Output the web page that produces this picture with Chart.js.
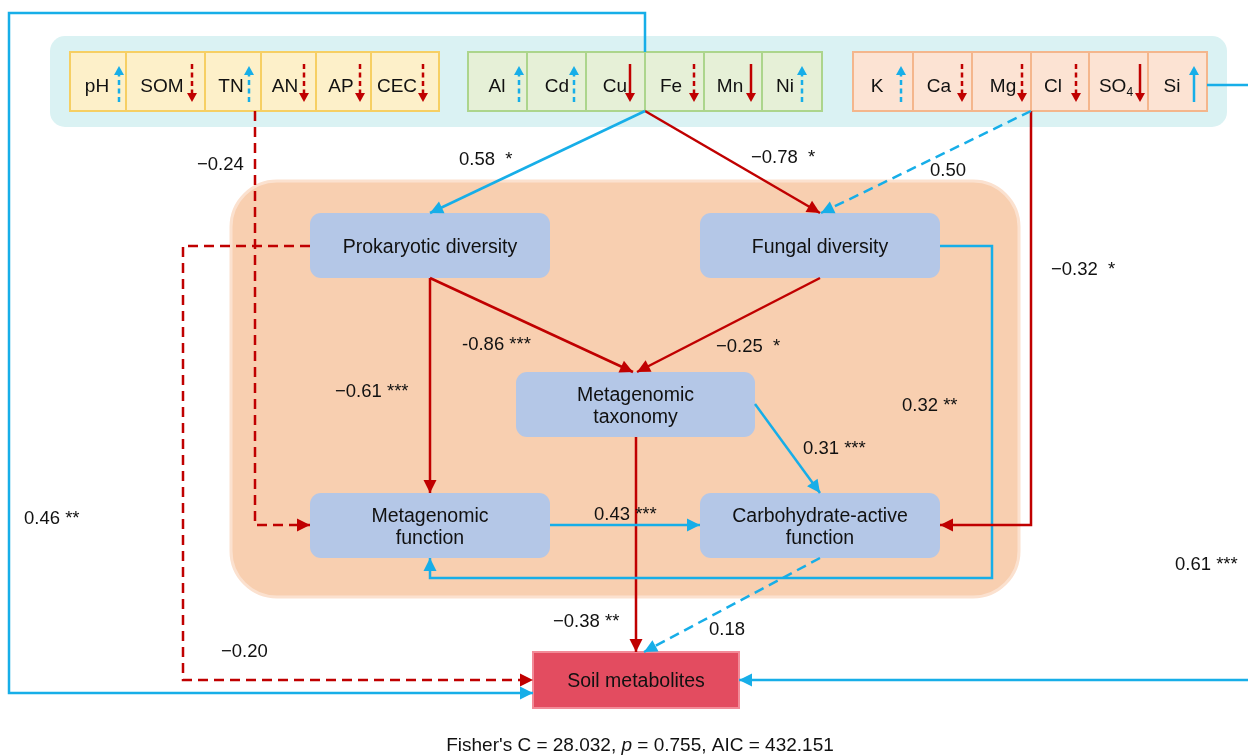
<!DOCTYPE html>
<html><head><meta charset="utf-8">
<script src="https://cdn.jsdelivr.net/npm/chart.js@4/dist/chart.umd.min.js"></script>
<style>html,body{margin:0;padding:0;background:#fff}#wrap{width:1248px;height:755px;position:relative}</style>
</head><body><div id="wrap"><canvas id="c"></canvas></div>
<script>
// ---------------- DATA ----------------
const soilProps = ['pH','SOM','TN','AN','AP','CEC'];
const soilTrend = ['up-dash','down-dash','up-dash','down-dash','down-dash','down-dash'];
const metals = ['Al','Cd','Cu','Fe','Mn','Ni'];
const metalTrend = ['up-dash','up-dash','down-solid','down-dash','down-solid','up-dash'];
const ions = ['K','Ca','Mg','Cl','SO4','Si'];
const ionTrend = ['up-dash','down-dash','down-dash','down-dash','down-solid','up-solid'];
const nodeNames = ['Prokaryotic diversity','Fungal diversity','Metagenomic\ntaxonomy','Metagenomic\nfunction','Carbohydrate-active\nfunction','Soil metabolites'];
// path coefficients (edge order below)
const coefficients = [0.58,-0.78,0.50,-0.32,-0.24,-0.20,-0.61,-0.86,-0.25,0.32,0.31,0.43,-0.38,0.18,0.46,0.61];
const significance = ['*','*','','*','','','***','***','*','**','***','***','**','','**','***'];
const fitText = ['Fisher\'s C = 28.032, ','p',' = 0.755, AIC = 432.151'];

// ---------------- LAYOUT / STYLE ----------------
const BLUE='#17aee8', RED='#c00000';
const groups = [
  {names:soilProps,trend:soilTrend,edges:[70,126,205,261,316,371,439],arrowX:[119,192,249,304,360,423],textX:[97,162,231,285,341,397],fill:'#fdf0c9',stroke:'#f6cf63'},
  {names:metals,trend:metalTrend,edges:[468,527,586,645,704,762,822],arrowX:[519,574,630,694,751,802],textX:[497,557,615,671,730,785],fill:'#e6f0d7',stroke:'#acd58c'},
  {names:ions,trend:ionTrend,edges:[853,913,972,1031,1089,1148,1207],arrowX:[901,962,1022,1076,1140,1194],textX:[877,939,1003,1053,1116,1172],fill:'#fce3d3',stroke:'#f4b68c'}
];
const cellTop=52, cellBot=111;
const nodes = [
  {x:310,y:213,w:240,h:65},{x:700,y:213,w:240,h:65},{x:516,y:372,w:239,h:65},
  {x:310,y:493,w:240,h:65},{x:700,y:493,w:240,h:65},{x:533,y:652,w:206,h:56}
];
const edges = [
  {pts:[[645,111],[430,213]],c:BLUE},
  {pts:[[645,111],[820,213]],c:RED},
  {pts:[[1031,111],[821,213]],c:BLUE,dash:true},
  {pts:[[1031,111],[1031,525],[940,525]],c:RED},
  {pts:[[255,111],[255,525],[310,525]],c:RED,dash:true},
  {pts:[[310,246],[183,246],[183,680],[533,680]],c:RED,dash:true},
  {pts:[[430,278],[430,493]],c:RED},
  {pts:[[430,278],[633,372]],c:RED},
  {pts:[[820,278],[637,372]],c:RED},
  {pts:[[940,246],[992,246],[992,578],[430,578],[430,558]],c:BLUE},
  {pts:[[755,404],[820,493]],c:BLUE},
  {pts:[[550,525],[700,525]],c:BLUE},
  {pts:[[636,437],[636,652]],c:RED},
  {pts:[[820,558],[644,652]],c:BLUE,dash:true},
  {pts:[[645,52],[645,13],[9,13],[9,693],[533,693]],c:BLUE},
  {pts:[[1207,85],[1262,85],[1262,680],[739,680]],c:BLUE}
];
const labelPos = [[459,158],[751,156],[930,169],[1051,268],[197,163],[221,650],[335,390],[462,343],[716,345],[902,404],[803,447],[594,513],[553,620],[709,628],[24,517],[1175,563]];

function fmt(v,i){
  const s = Math.abs(v).toFixed(2);
  const n = (v<0 ? (i===7?'-':'\u2212') : '') + s;
  const st = significance[i];
  if(!st) return n;
  return n + (st.length===1?'  ':' ') + st;
}

const FONT = '"Liberation Sans", Arial, sans-serif';

const datasets = edges.map(e=>({
  data:e.pts.map(p=>({x:p[0],y:p[1]})),
  showLine:true, borderColor:e.c, backgroundColor:e.c, borderWidth:2.5,
  borderDash:e.dash?[10,6]:[], pointRadius:0, tension:0, fill:false, clip:false
}));

function rr(ctx,x,y,w,h,r){ctx.beginPath();ctx.moveTo(x+r,y);ctx.arcTo(x+w,y,x+w,y+h,r);ctx.arcTo(x+w,y+h,x,y+h,r);ctx.arcTo(x,y+h,x,y,r);ctx.arcTo(x,y,x+w,y,r);ctx.closePath();}
function head(ctx,x1,y1,x2,y2,color,L=13,W=6.5){
  const a=Math.atan2(y2-y1,x2-x1);
  ctx.save();ctx.fillStyle=color;ctx.beginPath();
  ctx.moveTo(x2,y2);
  ctx.lineTo(x2-L*Math.cos(a)+W*Math.sin(a),y2-L*Math.sin(a)-W*Math.cos(a));
  ctx.lineTo(x2-L*Math.cos(a)-W*Math.sin(a),y2-L*Math.sin(a)+W*Math.cos(a));
  ctx.closePath();ctx.fill();ctx.restore();
}

const diagram = {
  id:'diagram',
  beforeDatasetsDraw(chart){
    const ctx=chart.ctx, X=v=>chart.scales.x.getPixelForValue(v), Y=v=>chart.scales.y.getPixelForValue(v);
    ctx.save();
    ctx.fillStyle='#daf2f3'; rr(ctx,X(50),Y(36),X(1227)-X(50),Y(127)-Y(36),15); ctx.fill();
    ctx.fillStyle='#f8cfb0'; ctx.strokeStyle='#fbe1cf'; ctx.lineWidth=3;
    rr(ctx,X(231),Y(181),X(1019)-X(231),Y(597)-Y(181),46); ctx.fill(); ctx.stroke();
    groups.forEach(g=>{
      for(let i=0;i<g.names.length;i++){
        const x0=X(g.edges[i]),x1=X(g.edges[i+1]);
        ctx.fillStyle=g.fill; ctx.fillRect(x0,Y(cellTop),x1-x0,Y(cellBot)-Y(cellTop));
      }
      ctx.strokeStyle=g.stroke; ctx.lineWidth=2;
      for(let i=0;i<g.names.length;i++){
        const x0=X(g.edges[i]),x1=X(g.edges[i+1]);
        ctx.strokeRect(x0,Y(cellTop),x1-x0,Y(cellBot)-Y(cellTop));
      }
      g.names.forEach((n,i)=>{
        ctx.fillStyle='#111'; ctx.font='19px '+FONT; ctx.textBaseline='middle';
        const ty=Y(87);
        if(n==='SO4'){
          const w1=ctx.measureText('SO').width; ctx.font='12px '+FONT; const w2=ctx.measureText('4').width;
          const sx=X(g.textX[i])-(w1+w2)/2;
          ctx.font='19px '+FONT; ctx.textAlign='left'; ctx.fillText('SO',sx,ty);
          ctx.font='12px '+FONT; ctx.fillText('4',sx+w1,ty+6);
        } else { ctx.textAlign='center'; ctx.fillText(n,X(g.textX[i]),ty); }
        const t=g.trend[i], up=t.startsWith('up'), dash=t.endsWith('dash');
        const col=up?BLUE:RED, ax=X(g.arrowX[i]);
        const yTop=Y(64), yBot=Y(102);
        ctx.save(); ctx.strokeStyle=col; ctx.lineWidth=2.5; ctx.setLineDash(dash?[5,3.5]:[]);
        ctx.beginPath();
        if(up){ctx.moveTo(ax,yBot);ctx.lineTo(ax,yTop+8);} else {ctx.moveTo(ax,yTop);ctx.lineTo(ax,yBot-8);}
        ctx.stroke(); ctx.restore();
        if(up) head(ctx,ax,yBot,ax,yTop+2,col,9,5); else head(ctx,ax,yTop,ax,yBot,col,9,5);
      });
    });
    nodes.forEach((n,i)=>{
      if(i===5){ctx.fillStyle='#e34c60';ctx.strokeStyle='#f28b98';ctx.lineWidth=2;
        ctx.fillRect(X(n.x),Y(n.y),n.w,n.h);ctx.strokeRect(X(n.x),Y(n.y),n.w,n.h);}
      else {ctx.fillStyle='#b4c7e7'; rr(ctx,X(n.x),Y(n.y),n.w,n.h,11); ctx.fill();}
    });
    ctx.restore();
  },
  afterDatasetsDraw(chart){
    const ctx=chart.ctx, X=v=>chart.scales.x.getPixelForValue(v), Y=v=>chart.scales.y.getPixelForValue(v);
    ctx.save();
    edges.forEach(e=>{
      const p=e.pts, a=p[p.length-2], b=p[p.length-1];
      head(ctx,X(a[0]),Y(a[1]),X(b[0]),Y(b[1]),e.c);
    });
    ctx.fillStyle='#111'; ctx.font='19.5px '+FONT; ctx.textAlign='center'; ctx.textBaseline='middle';
    nodes.forEach((n,i)=>{
      const lines=nodeNames[i].split('\n'), cx=X(n.x+n.w/2), cy=Y(n.y+n.h/2+2);
      lines.forEach((l,k)=>ctx.fillText(l,cx,cy+(k-(lines.length-1)/2)*22));
    });
    ctx.font='18.5px '+FONT; ctx.textAlign='left';
    coefficients.forEach((v,i)=>ctx.fillText(fmt(v,i),X(labelPos[i][0]),Y(labelPos[i][1]+2)));
    const fN='19px '+FONT, fI='italic 19px '+FONT;
    ctx.font=fN;
    const w0=ctx.measureText(fitText[0]).width, w2=ctx.measureText(fitText[2]).width;
    ctx.font=fI; const w1=ctx.measureText(fitText[1]).width;
    let x=X(640)-(w0+w1+w2)/2, y=Y(746);
    ctx.font=fN; ctx.fillText(fitText[0],x,y); x+=w0;
    ctx.font=fI; ctx.fillText(fitText[1],x,y); x+=w1;
    ctx.font=fN; ctx.fillText(fitText[2],x,y);
    ctx.restore();
  }
};

new Chart(document.getElementById('c'),{
  type:'scatter',
  data:{datasets},
  options:{
    responsive:true, maintainAspectRatio:false, animation:false,
    layout:{padding:0},
    plugins:{legend:{display:false},tooltip:{enabled:false}},
    scales:{
      x:{type:'linear',min:0,max:1248,display:false},
      y:{type:'linear',min:0,max:755,reverse:true,display:false}
    }
  },
  plugins:[diagram]
});
</script></body></html>
